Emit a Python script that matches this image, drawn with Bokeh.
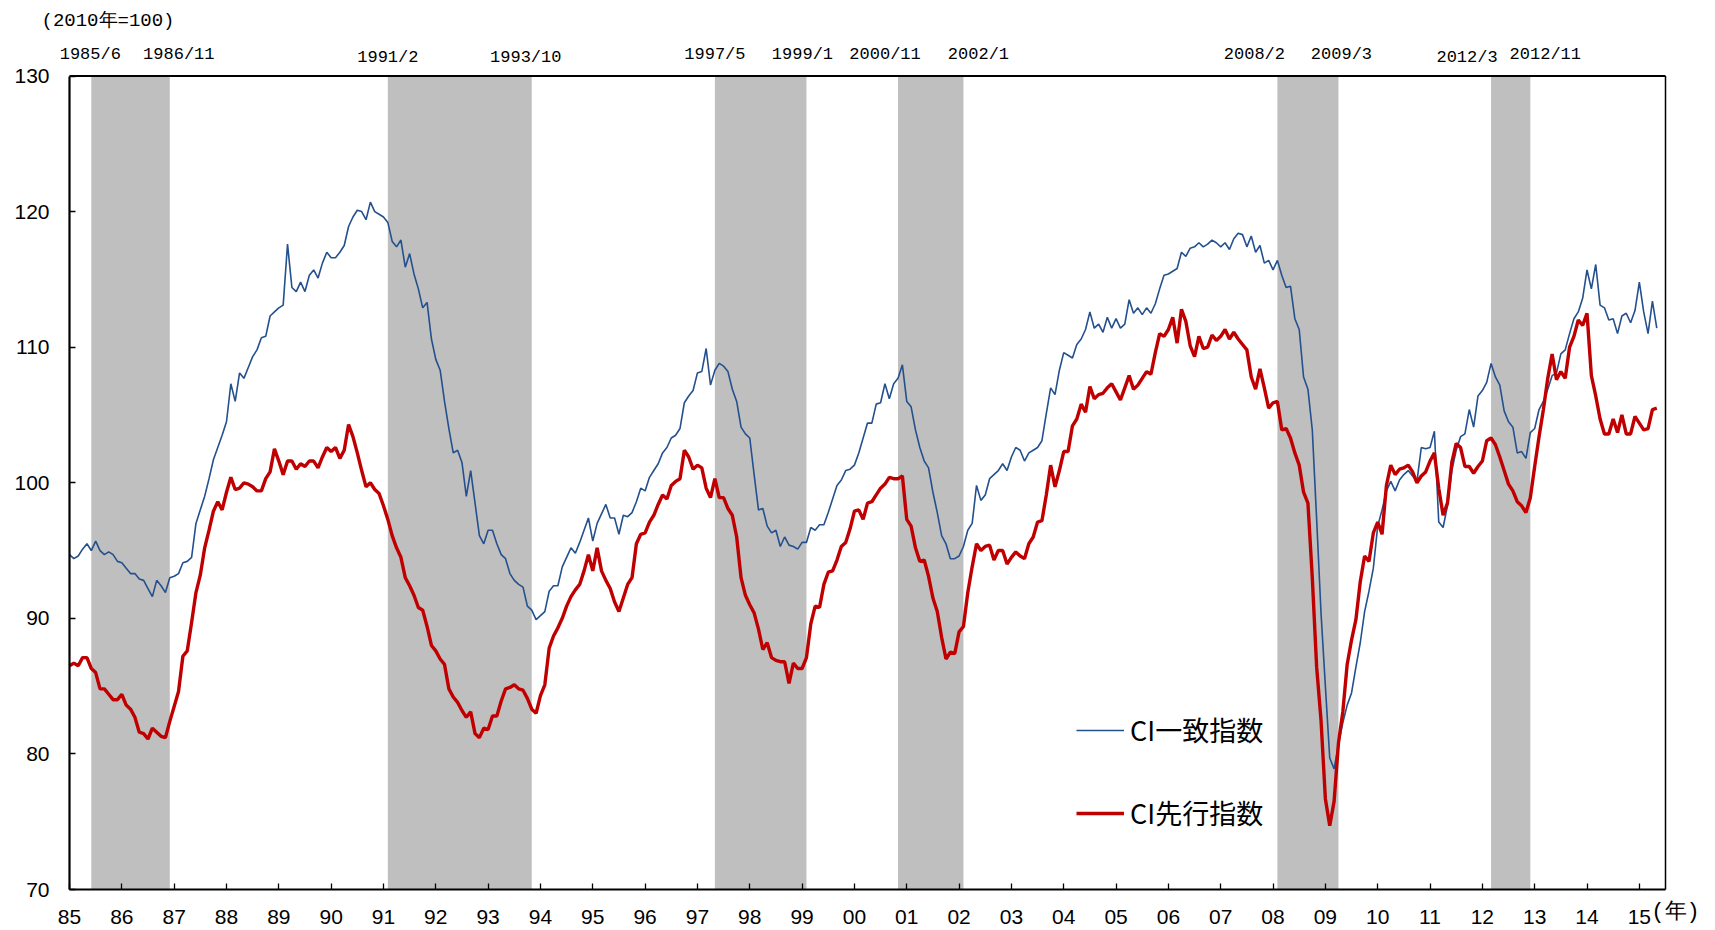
import numpy as np
from bokeh.plotting import figure
from bokeh.models import Range1d, FixedTicker, Label, Legend, LegendItem, ColumnDataSource
from bokeh.embed import file_html
from bokeh.resources import INLINE

# ---------------- data (monthly, from 1985/1) ----------------
START_YEAR = 1985

coin_1985_94 = [
    94.7, 94.4, 94.6, 95.1, 95.5, 95.0, 95.7, 95.0, 94.7, 94.9, 94.7, 94.2,
    94.1, 93.7, 93.3, 93.3, 92.9, 92.8, 92.2, 91.6, 92.8, 92.4, 91.9, 93.0,
    93.1, 93.3, 94.1, 94.2, 94.5, 97.0, 98.0, 99.0, 100.3, 101.7, 102.6, 103.5,
    104.5, 107.3, 106.0, 108.1, 107.7, 108.5, 109.3, 109.8, 110.7, 110.8, 112.3, 112.6,
    112.9, 113.1, 117.6, 114.4, 114.1, 114.8, 114.1, 115.3, 115.7, 115.1, 116.2, 117.0,
    116.6, 116.6, 117.0, 117.5, 118.9, 119.6, 120.1, 120.0, 119.4, 120.7, 120.0, 119.8,
    119.6, 119.2, 117.8, 117.4, 117.9, 115.9, 116.9, 115.4, 114.3, 112.9, 113.3, 110.6,
    109.1, 108.3, 106.0, 104.0, 102.2, 102.4, 101.5, 99.0, 100.9, 98.5, 96.1, 95.5,
    96.5, 96.5, 95.5, 94.7, 94.4, 93.3, 92.8, 92.5, 92.3, 90.9, 90.6, 89.9,
    90.2, 90.5, 92.0, 92.4, 92.4, 93.8, 94.5, 95.2, 94.8, 95.6, 96.5, 97.4,
]
coin_1995_04 = [
    95.7, 97.0, 97.7, 98.4, 97.4, 97.4, 96.2, 97.6, 97.5, 97.8, 98.6, 99.6,
    99.4, 100.4, 100.9, 101.4, 102.2, 102.6, 103.3, 103.5, 104.0, 105.9, 106.4, 106.8,
    108.1, 108.2, 109.9, 107.2, 108.3, 108.8, 108.6, 108.2, 106.9, 106.0, 104.1, 103.6,
    103.3, 100.6, 98.0, 98.1, 96.8, 96.3, 96.5, 95.3, 96.0, 95.4, 95.3, 95.1,
    95.6, 95.6, 96.7, 96.5, 96.9, 96.9, 97.8, 98.8, 99.8, 100.2, 100.9, 101.0,
    101.3, 102.2, 103.3, 104.4, 104.4, 105.8, 105.9, 107.3, 106.2, 107.3, 107.7, 108.7,
    106.0, 105.6, 103.9, 102.6, 101.6, 101.1, 99.3, 97.8, 96.1, 95.5, 94.4, 94.4,
    94.6, 95.3, 96.5, 97.0, 99.8, 98.7, 99.1, 100.3, 100.6, 100.9, 101.4, 100.9,
    101.9, 102.6, 102.4, 101.6, 102.2, 102.4, 102.6, 103.1, 105.1, 107.0, 106.5, 108.3,
    109.6, 109.4, 109.2, 110.2, 110.6, 111.3, 112.6, 111.4, 111.7, 111.1, 112.2, 111.4,
]
coin_2005_15 = [
    112.1, 111.4, 111.7, 113.5, 112.5, 112.9, 112.4, 112.9, 112.5, 113.2, 114.3, 115.3,
    115.4, 115.6, 115.8, 117.0, 116.7, 117.3, 117.4, 117.7, 117.4, 117.6, 117.9, 117.7,
    117.4, 117.7, 117.2, 118.0, 118.4, 118.3, 117.4, 118.2, 117.0, 117.5, 116.2, 116.4,
    115.7, 116.4, 115.3, 114.4, 114.5, 112.1, 111.3, 107.8, 106.9, 103.9, 97.3, 90.4,
    85.0, 79.7, 78.9, 80.7, 82.3, 83.6, 84.5, 86.4, 88.2, 90.5, 92.0, 93.7,
    96.8, 98.0, 99.4, 100.1, 99.4, 100.2, 100.6, 100.9, 100.5, 100.1, 102.6, 102.5,
    102.6, 103.8, 97.1, 96.7, 98.3, 100.9, 102.4, 103.4, 103.6, 105.4, 104.1, 106.4,
    106.8, 107.4, 108.8, 107.8, 107.2, 105.3, 104.5, 104.1, 102.2, 102.3, 101.8, 103.7,
    104.0, 105.4, 106.0, 106.9, 107.9, 108.1, 109.5, 109.8, 111.0, 112.1, 112.6, 113.6,
    115.7, 114.3, 116.1, 113.1, 112.9, 112.0, 112.1, 111.0, 112.3, 112.5, 111.8, 112.7,
    114.8, 112.6, 111.0, 113.4, 111.4,
]

lead_1985_94 = [
    86.5, 86.7, 86.5, 87.1, 87.1, 86.3, 86.0, 84.8, 84.8, 84.4, 84.0, 84.0,
    84.4, 83.6, 83.3, 82.7, 81.6, 81.5, 81.1, 81.9, 81.6, 81.3, 81.2, 82.4,
    83.5, 84.6, 87.2, 87.6, 89.7, 91.9, 93.2, 95.2, 96.5, 97.9, 98.6, 98.0,
    99.3, 100.4, 99.5, 99.6, 100.0, 99.9, 99.7, 99.4, 99.4, 100.3, 100.8, 102.5,
    101.6, 100.6, 101.6, 101.6, 101.0, 101.4, 101.2, 101.6, 101.6, 101.1, 101.9, 102.6,
    102.3, 102.6, 101.8, 102.4, 104.3, 103.4, 102.2, 100.9, 99.7, 100.0, 99.5, 99.2,
    98.3, 97.3, 96.1, 95.2, 94.5, 93.0, 92.4, 91.7, 90.8, 90.6, 89.4, 88.0,
    87.6, 87.0, 86.6, 84.8, 84.2, 83.8, 83.2, 82.7, 83.1, 81.5, 81.2, 81.9,
    81.8, 82.8, 82.8, 83.9, 84.8, 84.9, 85.1, 84.8, 84.7, 84.1, 83.3, 83.0,
    84.3, 85.1, 87.8, 88.7, 89.3, 90.0, 90.9, 91.6, 92.1, 92.5, 93.5, 94.7,
]
lead_1995_04 = [
    93.5, 95.2, 93.5, 92.8, 92.2, 91.2, 90.5, 91.5, 92.5, 93.0, 95.5, 96.2,
    96.3, 97.1, 97.6, 98.4, 99.1, 98.8, 99.8, 100.1, 100.3, 102.4, 101.9, 101.0,
    101.3, 101.1, 99.6, 98.9, 100.3, 98.9, 98.9, 98.1, 97.6, 96.0, 93.0, 91.7,
    91.0, 90.4, 89.2, 87.7, 88.2, 87.1, 86.9, 86.8, 86.8, 85.2, 86.7, 86.3,
    86.3, 87.1, 89.6, 90.9, 90.8, 92.5, 93.4, 93.5, 94.3, 95.3, 95.6, 96.6,
    97.9, 98.0, 97.3, 98.5, 98.6, 99.1, 99.6, 99.9, 100.4, 100.3, 100.3, 100.5,
    97.3, 96.8, 95.2, 94.2, 94.3, 93.1, 91.5, 90.5, 88.6, 87.0, 87.5, 87.4,
    89.0, 89.4, 91.9, 93.8, 95.5, 95.0, 95.3, 95.4, 94.3, 95.0, 95.0, 94.0,
    94.5, 94.9, 94.6, 94.4, 95.5, 96.0, 97.1, 97.2, 99.1, 101.3, 99.7, 100.9,
    102.3, 102.3, 104.2, 104.7, 105.8, 105.2, 107.1, 106.2, 106.5, 106.6, 107.0, 107.3,
]
lead_2005_15 = [
    106.7, 106.1, 107.0, 107.9, 106.9, 107.2, 107.7, 108.2, 108.0, 109.6, 111.0, 110.8,
    111.3, 112.2, 110.3, 112.8, 111.9, 110.1, 109.3, 110.8, 109.9, 110.0, 110.9, 110.5,
    110.8, 111.3, 110.6, 111.1, 110.6, 110.2, 109.8, 107.8, 106.9, 108.4, 107.0, 105.5,
    105.9, 106.0, 103.9, 104.0, 103.3, 102.2, 101.3, 99.3, 98.5, 93.0, 86.4, 82.5,
    76.7, 74.7, 76.5, 80.8, 83.1, 86.6, 88.4, 89.9, 92.7, 94.6, 94.2, 96.3,
    97.1, 96.2, 99.8, 101.3, 100.6, 101.0, 101.1, 101.3, 100.8, 100.0, 100.5, 100.8,
    101.6, 102.2, 99.6, 97.6, 98.5, 101.5, 102.9, 102.6, 101.2, 101.2, 100.7, 101.2,
    101.6, 103.1, 103.3, 102.8, 101.9, 100.9, 99.9, 99.4, 98.6, 98.3, 97.8, 98.9,
    101.2, 103.4, 105.4, 107.7, 109.5, 107.6, 108.2, 107.7, 110.0, 110.8, 112.0, 111.6,
    112.5, 107.9, 106.4, 104.7, 103.6, 103.6, 104.7, 103.7, 105.0, 103.6, 103.6, 104.9,
    104.4, 103.9, 104.0, 105.4, 105.5,
]

# recession periods (peak -> trough)
rec_start = ["1985/6", "1991/2", "1997/5", "2000/11", "2008/2", "2012/3"]
rec_end = ["1986/11", "1993/10", "1999/1", "2002/1", "2009/3", "2012/11"]

year_ticks = list(range(1985, 2016))
year_labels = ["%02d" % (y % 100) for y in year_ticks]
y_ticks = [70, 80, 90, 100, 110, 120, 130]
Y_MIN, Y_MAX = 70, 130

series_names = ["CI一致指数", "CI先行指数"]
unit_label = "(2010年=100)"
x_unit_label = "(年)"

# ---------------- layout / style ----------------
W, H = 1715, 930
FRAME_L, FRAME_R, FRAME_T, FRAME_B = 69, 1665, 75.5, 889   # pixel box of the chart area

# pixel offsets of the period labels relative to their boundary
start_label_dx = [-1, 0, 0, -13, -23, -24]
end_label_dx = [9, -6, -4, 15, 3, 15]
start_label_low = [False, True, False, False, False, True]
end_label_low = [False, True, False, False, False, False]

coincident = coin_1985_94 + coin_1995_04 + coin_2005_15
leading = lead_1985_94 + lead_1995_04 + lead_2005_15
n_months = len(coincident)
xm = START_YEAR + np.arange(n_months) / 12.0
x_end = START_YEAR + (n_months + 1) / 12.0


def ym(s, end=False):
    y, m = [int(v) for v in s.split("/")]
    return y + (m - 1 + (1 if end else 0)) / 12.0


# the whole canvas is the frame; axes sit at fixed locations
px_per_x = (FRAME_R - FRAME_L) / (x_end - START_YEAR)
px_per_y = (FRAME_B - FRAME_T) / (Y_MAX - Y_MIN)
xr = Range1d(START_YEAR - FRAME_L / px_per_x, x_end + (W - FRAME_R) / px_per_x)
yr = Range1d(Y_MIN - (H - FRAME_B) / px_per_y, Y_MAX + FRAME_T / px_per_y)


def ypix(page_y):
    return Y_MIN + (FRAME_B - page_y) / px_per_y


p = figure(width=W, height=H, x_range=xr, y_range=yr,
           output_backend="svg", toolbar_location=None,
           min_border_left=0, min_border_right=0,
           min_border_top=0, min_border_bottom=0)
p.xgrid.visible = False
p.ygrid.visible = False
p.outline_line_color = None
p.background_fill_color = "white"
p.border_fill_color = "white"

src = ColumnDataSource(dict(left=[ym(s) for s in rec_start],
                            right=[ym(e, True) for e in rec_end]))
p.quad(left="left", right="right", bottom=Y_MIN, top=Y_MAX, source=src,
       fill_color="#BFBFBF", line_color=None)

r_coin = p.line(xm, coincident, line_color="#24508E", line_width=1.6)
r_lead = p.line(xm, leading, line_color="#C00000", line_width=3.4)

# top and right border of the chart area
p.line([START_YEAR, x_end], [Y_MAX, Y_MAX], line_color="black", line_width=2.2)
p.line([x_end, x_end], [Y_MIN, Y_MAX], line_color="black", line_width=1.5)

CJK = "Noto Sans CJK JP"
MONO = "Liberation Mono"

xa = p.xaxis[0]
xa.fixed_location = Y_MIN
xa.bounds = (START_YEAR, x_end)
xa.ticker = FixedTicker(ticks=year_ticks)
xa.major_label_overrides = {t: l for t, l in zip(year_ticks, year_labels)}
xa.minor_tick_line_color = None
xa.major_tick_in = 6
xa.major_tick_out = 0
xa.axis_line_width = 2.2
xa.major_tick_line_width = 1.3
xa.major_label_standoff = 20
xa.major_label_text_font = "Liberation Sans"
xa.major_label_text_font_size = "21px"
xa.major_label_text_color = "black"

ya = p.yaxis[0]
ya.fixed_location = START_YEAR
ya.bounds = (Y_MIN, Y_MAX)
ya.ticker = FixedTicker(ticks=y_ticks)
ya.minor_tick_line_color = None
ya.major_tick_in = 6
ya.major_tick_out = 0
ya.axis_line_width = 2.2
ya.major_tick_line_width = 1.3
ya.major_label_standoff = 20
ya.major_label_text_font = "Liberation Sans"
ya.major_label_text_font_size = "21px"
ya.major_label_text_color = "black"

# period labels above the chart
for s, dx, low in zip(rec_start, start_label_dx, start_label_low):
    p.add_layout(Label(x=ym(s), y=ypix(56.5 if low else 53.5), text=s, x_offset=dx,
                       text_align="center", text_baseline="middle",
                       text_font=MONO, text_font_size="17px", text_color="black"))
for s, dx, low in zip(rec_end, end_label_dx, end_label_low):
    p.add_layout(Label(x=ym(s, True), y=ypix(56.5 if low else 53.5), text=s, x_offset=dx,
                       text_align="center", text_baseline="middle",
                       text_font=MONO, text_font_size="17px", text_color="black"))

p.add_layout(Label(x=START_YEAR, y=ypix(20), x_offset=-28, text=unit_label,
                   text_align="left", text_baseline="middle",
                   text_font=MONO, text_font_size="19px", text_color="black"))
p.add_layout(Label(x=year_ticks[-1], y=ypix(912), x_offset=12, text=x_unit_label,
                   text_align="left", text_baseline="middle",
                   text_font=MONO, text_font_size="22px", text_color="black"))

legend = Legend(items=[LegendItem(label=series_names[0], renderers=[r_coin]),
                       LegendItem(label=series_names[1], renderers=[r_lead])],
                location=(1076, 98), orientation="vertical",
                border_line_alpha=0, background_fill_alpha=0,
                glyph_width=48, glyph_height=30, label_standoff=6,
                label_text_font=CJK, label_text_font_size="27px",
                label_text_color="black", label_height=30,
                spacing=44, padding=0, margin=0)
p.add_layout(legend)

open("out.html", "w").write(file_html(p, INLINE))
